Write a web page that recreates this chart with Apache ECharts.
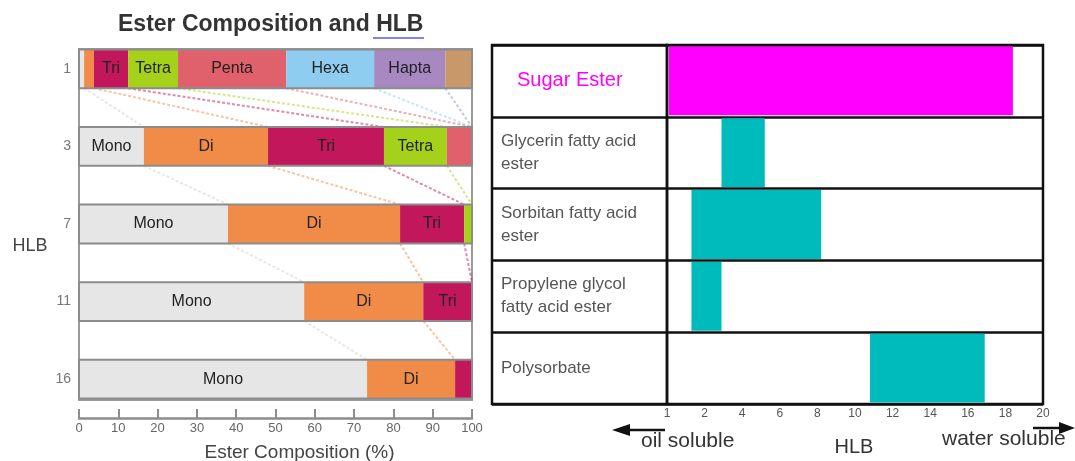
<!DOCTYPE html>
<html>
<head>
<meta charset="utf-8">
<script src="https://cdn.jsdelivr.net/npm/echarts@6/dist/echarts.min.js"></script>
<style>html,body{margin:0;padding:0;background:#fff}#c{width:1075px;height:461px}</style>
</head>
<body>
<div id="c"></div>
<script>
// ---------- Left chart data (Ester composition, % per HLB row) ----------
const hlbRows = ['1', '3', '7', '11', '16'];
const esterNames = ['Mono', 'Di', 'Tri', 'Tetra', 'Penta', 'Hexa', 'Hapta', 'Octa'];
const esterColors = ['#e6e6e6', '#f08c48', '#c2185b', '#a5d11b', '#e0606c', '#8fcdf0', '#a888c0', '#c8986a'];
const mono  = [1.3, 16.5, 37.9, 57.3, 73.3];
const di    = [2.5, 31.6, 43.8, 30.3, 22.4];
const tri   = [8.7, 29.5, 16.3, 12.4, 4.3];
const tetra = [12.7, 16.0, 2.0, 0, 0];
const penta = [27.5, 6.4, 0, 0, 0];
const hexa  = [22.4, 0, 0, 0, 0];
const hapta = [18.1, 0, 0, 0, 0];
const octa  = [6.8, 0, 0, 0, 0];
const compTicks = [0, 10, 20, 30, 40, 50, 60, 70, 80, 90, 100];

// ---------- Right chart data (HLB ranges) ----------
const productNames = ['Sugar Ester', 'Glycerin fatty acid\nester', 'Sorbitan fatty acid\nester', 'Propylene glycol\nfatty acid ester', 'Polysorbate'];
const rangeStart = [0.1, 2.9, 1.3, 1.3, 10.8];
const rangeEnd   = [18.4, 5.2, 8.2, 2.9, 16.9];
const rangeColors = ['#ff00ff', '#00bbbb', '#00bbbb', '#00bbbb', '#00bbbb'];
const hlbTickLabels = ['1', '2', '4', '6', '8', '10', '12', '14', '16', '18', '20'];

const comps = [mono, di, tri, tetra, penta, hexa, hapta, octa];
const cum = hlbRows.map((_, r) => { let s = 0; return comps.map(c => (s += c[r])); });
const connData = [];
for (let r = 0; r < hlbRows.length - 1; r++) {
  for (let k = 0; k < comps.length; k++) {
    const a = Math.min(cum[r][k], 100), b = Math.min(cum[r + 1][k], 100);
    if (a >= 99.9) continue;
    connData.push([a, r, b, k]);
  }
}
const outlineData = hlbRows.map((_, r) => [0, r, 100]);
const rangeData = productNames.map((_, i) => [rangeStart[i], i, rangeEnd[i], i]);

const FONT = '"Liberation Sans", Arial, sans-serif';
const chart = echarts.init(document.getElementById('c'), null, { renderer: 'canvas' });

const barSeries = esterNames.map((name, k) => ({
  type: 'bar', name, stack: 'c', xAxisIndex: 0, yAxisIndex: 0,
  barWidth: '50%', data: comps[k],
  itemStyle: { color: esterColors[k] },
  label: {
    show: true, position: 'inside', color: '#222', fontSize: 16, fontFamily: FONT,
    formatter: p => (p.value >= 8 ? name : '')
  },
  emphasis: { disabled: true }
}));

const option = {
  animation: false,
  grid: [
    { left: 79, right: 603, top: 30, bottom: 43, outerBoundsMode: 'none', containLabel: false },
    { left: 79, right: 603, top: 49, bottom: 61, outerBoundsMode: 'none', show: true, borderColor: '#9a9a9a', borderWidth: 2 },
    { left: 667, right: 32, top: 45, bottom: 57, outerBoundsMode: 'none', show: true, borderColor: '#111', borderWidth: 2.5 },
    { left: 492, right: 408, top: 45, bottom: 57, outerBoundsMode: 'none', show: true, borderColor: '#111', borderWidth: 2.5 }
  ],
  xAxis: [
    { gridIndex: 0, type: 'value', min: 0, max: 100, interval: 10,
      axisLine: { show: true, lineStyle: { color: '#8c8c8c', width: 2.5 } },
      axisTick: { show: true, inside: true, length: 9, lineStyle: { color: '#8c8c8c', width: 2 } },
      axisLabel: { color: '#666', fontSize: 13, fontFamily: FONT, margin: 4,
        formatter: v => String(compTicks[Math.round(v / 10)]) },
      splitLine: { show: false },
      name: 'Ester Composition (%)', nameLocation: 'middle', nameGap: 25,
      nameTextStyle: { color: '#444', fontSize: 19, fontFamily: FONT, padding: [0, 0, 0, 48] } },
    { gridIndex: 1, type: 'value', min: 0, max: 100, show: false },
    { gridIndex: 2, type: 'value', min: 0, max: 20, interval: 2,
      axisLine: { show: false }, axisTick: { show: false },
      axisLabel: { color: '#555', fontSize: 12, fontFamily: FONT, margin: 4,
        formatter: v => hlbTickLabels[Math.round(v / 2)] },
      splitLine: { show: false } },
    { gridIndex: 3, type: 'value', min: 0, max: 1, show: false }
  ],
  yAxis: [
    { gridIndex: 0, type: 'category', data: hlbRows, inverse: true,
      axisLine: { show: false }, axisTick: { show: false },
      axisLabel: { color: '#777', fontSize: 14, fontFamily: FONT, margin: 8 } },
    { gridIndex: 1, type: 'category', data: hlbRows, show: false },
    { gridIndex: 2, type: 'category', data: productNames, inverse: true,
      axisLine: { show: false }, axisTick: { show: false },
      splitLine: { show: true, lineStyle: { color: '#111', width: 2.5 } },
      axisLabel: { align: 'left', margin: 166,
        formatter: (v, i) => i === 0 ? '{s|' + v + '}' : v.split('\n').map(t => '{n|' + t + '}').join('\n'),
        rich: {
          s: { color: '#ff00ff', fontSize: 20, fontFamily: FONT, padding: [0, 0, 0, 16] },
          n: { color: '#555', fontSize: 17, fontFamily: FONT, lineHeight: 23 }
        } } },
    { gridIndex: 3, type: 'category', data: productNames, inverse: true,
      axisLine: { show: false }, axisTick: { show: false }, axisLabel: { show: false },
      splitLine: { show: true, lineStyle: { color: '#111', width: 2.5 } } }
  ],
  series: [
    ...barSeries,
    { type: 'custom', xAxisIndex: 0, yAxisIndex: 0, z: 1, silent: true,
      encode: { x: [0, 2], y: 1 }, data: connData,
      renderItem: (params, api) => {
        const r = api.value(1), k = api.value(3);
        const pA = api.coord([api.value(0), r]);
        const pB = api.coord([api.value(2), r + 1]);
        const half = api.size([0, 1])[1] * 0.25;
        return { type: 'line',
          shape: { x1: pA[0], y1: pA[1] + half, x2: pB[0], y2: pB[1] - half },
          style: { stroke: k === 0 ? '#d0d0d0' : esterColors[k], lineWidth: 2, lineDash: [3, 2], opacity: 0.5 } };
      } },
    { type: 'custom', xAxisIndex: 0, yAxisIndex: 0, z: 5, silent: true,
      encode: { x: [0, 2], y: 1 }, data: outlineData,
      renderItem: (params, api) => {
        const p0 = api.coord([api.value(0), api.value(1)]);
        const p1 = api.coord([api.value(2), api.value(1)]);
        const h = api.size([0, 1])[1] * 0.5;
        return { type: 'rect', shape: { x: p0[0], y: p0[1] - h / 2, width: p1[0] - p0[0], height: h },
          style: { fill: null, stroke: '#8c8c8c', lineWidth: 2 } };
      } },
    { type: 'custom', xAxisIndex: 2, yAxisIndex: 2, silent: true,
      encode: { x: [0, 2], y: 1 }, data: rangeData,
      renderItem: (params, api) => {
        const p0 = api.coord([api.value(0), api.value(1)]);
        const p1 = api.coord([api.value(2), api.value(1)]);
        const h = api.size([0, 1])[1];
        return { type: 'rect', shape: { x: p0[0], y: p0[1] - h / 2 + 1.5, width: p1[0] - p0[0], height: h - 3 },
          style: { fill: rangeColors[api.value(3)] } };
      } }
  ],
  graphic: [
    { type: 'text', left: 118, top: 13,
      style: { text: 'Ester Composition and HLB', fontSize: 23, fontWeight: 'bold', fontFamily: FONT, fill: '#333' } },
    { type: 'line', shape: { x1: 373, y1: 38, x2: 424, y2: 38 }, style: { stroke: '#8080ff', lineWidth: 2 } },
    { type: 'text', x: 30, y: 246,
      style: { text: 'HLB', fontSize: 18, fontFamily: FONT, fill: '#444', align: 'center', verticalAlign: 'middle' } },
    { type: 'line', shape: { x1: 628, y1: 430, x2: 665, y2: 430 }, style: { stroke: '#111', lineWidth: 2.5 } },
    { type: 'polygon', shape: { points: [[612, 430], [630, 424], [630, 436]] }, style: { fill: '#111' } },
    { type: 'text', x: 641, y: 441,
      style: { text: 'oil soluble', fontSize: 21, fontFamily: FONT, fill: '#333', verticalAlign: 'middle' } },
    { type: 'text', x: 854, y: 447,
      style: { text: 'HLB', fontSize: 20, fontFamily: FONT, fill: '#333', align: 'center', verticalAlign: 'middle' } },
    { type: 'text', x: 942, y: 439,
      style: { text: 'water soluble', fontSize: 21, fontFamily: FONT, fill: '#333', verticalAlign: 'middle' } },
    { type: 'line', shape: { x1: 1033, y1: 428, x2: 1062, y2: 428 }, style: { stroke: '#111', lineWidth: 2.5 } },
    { type: 'polygon', shape: { points: [[1075, 428], [1059, 422], [1059, 434]] }, style: { fill: '#111' } }
  ]
};
chart.setOption(option);
</script>
</body>
</html>
